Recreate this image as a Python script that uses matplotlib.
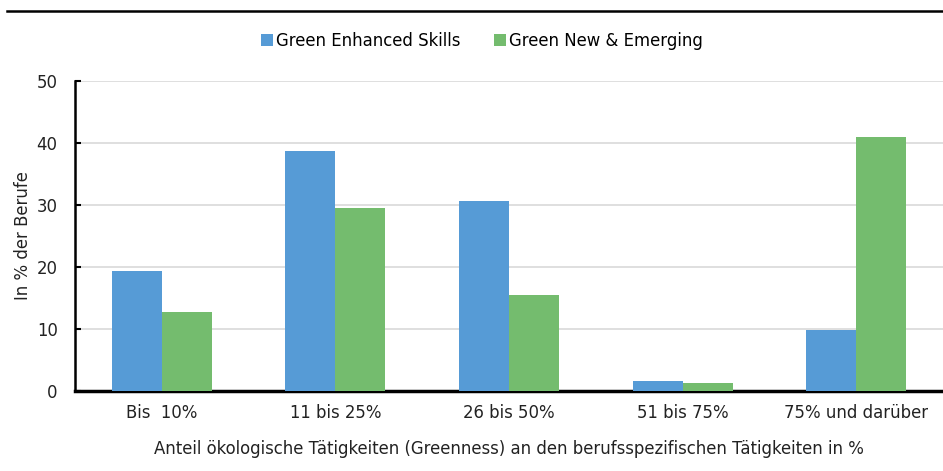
import matplotlib
matplotlib.use("Agg")
import matplotlib.pyplot as plt
import numpy as np

categories = ["Bis  10%", "11 bis 25%", "26 bis 50%", "51 bis 75%", "75% und darüber"]
enhanced = [19.3, 38.7, 30.6, 1.5, 9.7]
new_emerging = [12.7, 29.5, 15.4, 1.2, 41.0]
series_names = ["Green Enhanced Skills", "Green New & Emerging"]
yticks = [0, 10, 20, 30, 40, 50]

plt.rcParams['font.family'] = ['DejaVu Sans']
FS = 11.9

fig = plt.figure(figsize=(9.43, 4.71), dpi=100)
ax = fig.add_axes([75/943, 1-390.5/471, (943-75)/943, (390.5-81)/471])

x = np.arange(len(categories))
w = 0.288
ax.bar(x - w/2, enhanced, w, color="#569BD6", label=series_names[0], zorder=3)
ax.bar(x + w/2, new_emerging, w, color="#74BC6E", label=series_names[1], zorder=3)

ax.set_xlim(-0.5, len(categories) - 0.5)
ax.set_ylim(0, 50)
ax.set_yticks(yticks)
ax.yaxis.grid(True, color="#D9D9D9", linewidth=1.2, zorder=0)
ax.set_axisbelow(True)
ax.set_xticks(x)
ax.set_xticklabels(categories, fontsize=FS, color="#222222")
ax.tick_params(axis='x', length=0, pad=9.5)
ax.tick_params(axis='y', length=4, width=1.5, labelsize=FS, labelcolor="#222222", pad=12.5, direction='in')
for s in ["top", "right"]:
    ax.spines[s].set_visible(False)
ax.spines["left"].set_linewidth(1.8)
ax.spines["bottom"].set_linewidth(2.5)

ax.set_ylabel("In % der Berufe", fontsize=FS, color="#222222", labelpad=3)
ax.set_xlabel("Anteil ökologische Tätigkeiten (Greenness) an den berufsspezifischen Tätigkeiten in %",
              fontsize=FS, color="#222222", labelpad=13.5)

fig.legend(loc="center", bbox_to_anchor=(482/943, 1-41/471), ncol=2, frameon=False,
           fontsize=FS, handlelength=0.75, handleheight=0.75, handletextpad=0.2, columnspacing=2.0)

fig.add_artist(plt.Line2D([7/943, 1], [1-11/471, 1-11/471], color="black", linewidth=1.8,
                          transform=fig.transFigure))

fig.savefig("out.png", dpi=100)
